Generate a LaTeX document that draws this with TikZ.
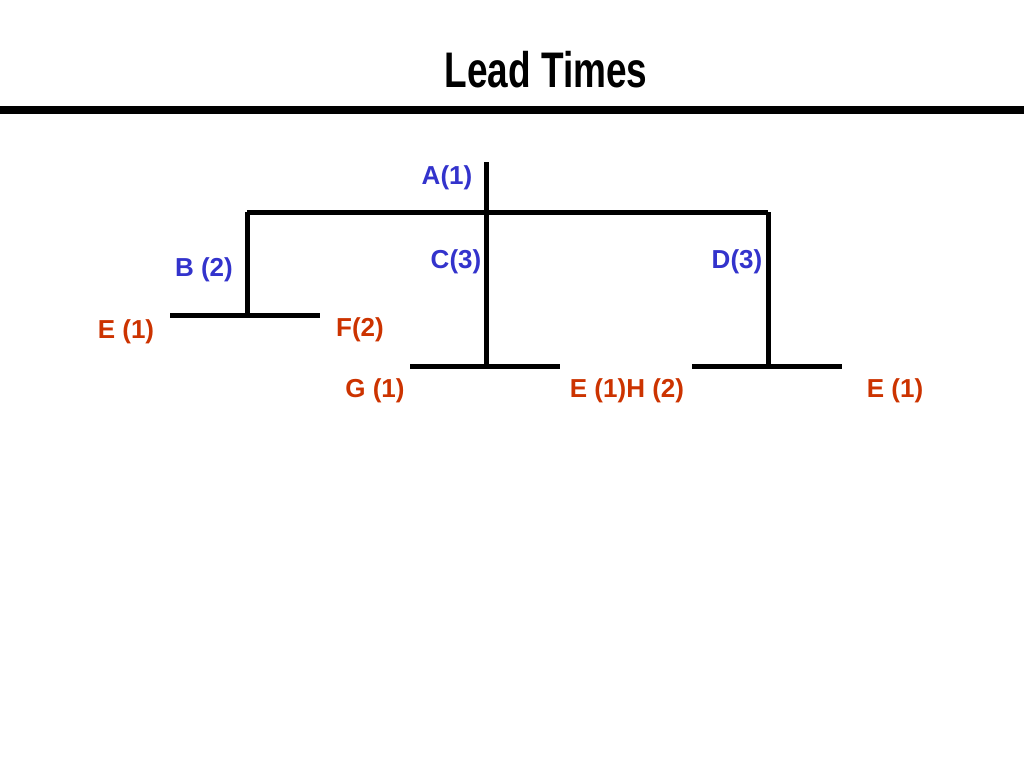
\documentclass[tikz,border=0pt]{standalone}
\usepackage{fontspec}
\setmainfont{Liberation Sans}
\usetikzlibrary{positioning}
\definecolor{partblue}{RGB}{51,51,204}
\definecolor{partred}{RGB}{204,51,0}
\begin{document}
\begin{tikzpicture}[
    x=1pt, y=-1pt,
    bar/.style={line width=5pt},
    parent/.style={text=partblue, font=\fontsize{26}{28}\selectfont\bfseries},
    child/.style={text=partred, font=\fontsize{26}{28}\selectfont\bfseries}
  ]
    \useasboundingbox (0,0) rectangle (1024,768);
    % title and rule
    \node (title) at (546,70) {\fontsize{50}{54}\selectfont\bfseries\scalebox{0.74}[1]{Lead Times}};
    \coordinate (ruleL) at (0,110);
    \coordinate (ruleR) at (1024,110);
    \draw[line width=8pt] (ruleL) -- (ruleR);

    % tree joints
    \coordinate (atop) at (486,162);
    \coordinate (aj) at (486,212);
    \coordinate (bj) at (247,212);
    \coordinate (dj) at (768,212);
    \coordinate (bb) at (247,315);
    \coordinate (cb) at (486,366);
    \coordinate (db) at (768,366);
    \coordinate (bL) at (170,315);
    \coordinate (bR) at (320,315);
    \coordinate (cL) at (410,366);
    \coordinate (cR) at (560,366);
    \coordinate (dL) at (692,366);
    \coordinate (dR) at (842,366);

    \draw[bar] (atop) -- (cb);
    \draw[bar] (bj) -- (dj);
    \draw[bar] (bj) -- (bb);
    \draw[bar] (dj) -- (db);
    \draw[bar] (bL) -- (bR);
    \draw[bar] (cL) -- (cR);
    \draw[bar] (dL) -- (dR);

    % labels
    \node[parent] (la) at (447,178) {A(1)};
    \node[parent] (lb) at (204,270) {B (2)};
    \node[parent] (lc) at (456,262) {C(3)};
    \node[parent] (ld) at (737,262) {D(3)};
    \node[child] (le1) at (126,332) {E (1)};
    \node[child] (lf) at (360,330) {F(2)};
    \node[child] (lg) at (375,391) {G (1)};
    \node[child] (leh) at (627,391) {E (1)H (2)};
    \node[child] (le2) at (895,391) {E (1)};
\end{tikzpicture}
\end{document}
